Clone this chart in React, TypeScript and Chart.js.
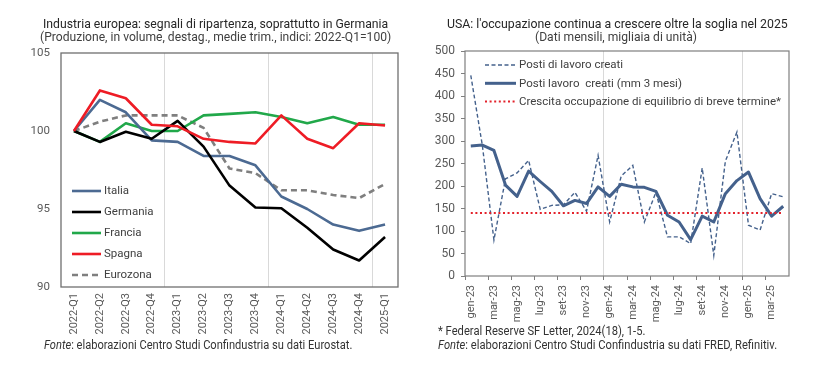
import React, { useEffect, useLayoutEffect, useRef, useState } from 'react';
import { Chart, registerables } from 'chart.js';

Chart.register(...registerables);
Chart.defaults.font.family = 'Roboto';

// ---------- Left chart data ----------
const quarters = ['2022-Q1', '2022-Q2', '2022-Q3', '2022-Q4', '2023-Q1', '2023-Q2', '2023-Q3', '2023-Q4', '2024-Q1', '2024-Q2', '2024-Q3', '2024-Q4', '2025-Q1'];
const italia = [100, 102.0, 101.2, 99.4, 99.3, 98.4, 98.4, 97.8, 95.8, 95.0, 94.0, 93.6, 94.0];
const germania = [100, 99.3, 99.95, 99.5, 100.65, 99.0, 96.5, 95.1, 95.05, 93.8, 92.4, 91.7, 93.2];
const francia = [100, 99.3, 100.5, 100.0, 100.0, 101.0, 101.1, 101.2, 100.9, 100.5, 100.9, 100.4, 100.4];
const spagna = [100, 102.6, 102.1, 100.4, 100.3, 99.5, 99.3, 99.2, 101.0, 99.5, 98.9, 100.5, 100.35];
const eurozona = [100, 100.6, 101.0, 101.0, 101.0, 100.2, 97.6, 97.3, 96.2, 96.2, 95.9, 95.7, 96.6];
const leftTicks = [90, 95, 100, 105];

// ---------- Right chart data ----------
const months = [
  'gen-23', 'feb-23', 'mar-23', 'apr-23', 'mag-23', 'giu-23', 'lug-23', 'ago-23', 'set-23', 'ott-23', 'nov-23', 'dic-23',
  'gen-24', 'feb-24', 'mar-24', 'apr-24', 'mag-24', 'giu-24', 'lug-24', 'ago-24', 'set-24', 'ott-24', 'nov-24', 'dic-24',
  'gen-25', 'feb-25', 'mar-25', 'apr-25',
];
const postiCreati = [446, 290, 80, 216, 229, 257, 148, 157, 158, 186, 144, 268, 120, 222, 246, 120, 186, 87, 87, 72, 240, 46, 255, 320, 113, 102, 183, 176];
const postiMM3 = [289, 291, 279, 202, 177, 233, 210, 188, 156, 168, 161, 198, 177, 204, 198, 197, 188, 135, 120, 81, 133, 120, 183, 212, 231, 172, 133, 155];
const sogliaEquilibrio = months.map(() => 140);

const lineLegend = {
  id: 'lineLegend',
  afterDraw(chart: any, _args: any, opts: any) {
    const { ctx, chartArea } = chart;
    ctx.save();
    ctx.font = opts.font;
    ctx.textBaseline = 'middle';
    ctx.textAlign = 'left';
    (opts.items as number[]).forEach((di, k) => {
      const ds: any = chart.data.datasets[di];
      const y = chartArea.top + opts.y + k * opts.spacing;
      const x0 = chartArea.left + opts.x;
      ctx.beginPath();
      ctx.setLineDash(ds.borderDash || []);
      ctx.strokeStyle = ds.borderColor;
      ctx.lineWidth = ds.borderWidth;
      ctx.moveTo(x0, y);
      ctx.lineTo(x0 + opts.len, y);
      ctx.stroke();
      ctx.setLineDash([]);
      ctx.fillStyle = opts.color;
      ctx.fillText(ds.label, x0 + opts.len + opts.gap, y + 0.5);
    });
    ctx.restore();
  },
};

const boxBorder = {
  id: 'boxBorder',
  beforeDatasetsDraw(chart: any, _args: any, opts: any) {
    const { ctx, chartArea } = chart;
    ctx.save();
    ctx.strokeStyle = opts.color;
    ctx.lineWidth = opts.width;
    ctx.strokeRect(chartArea.left, chartArea.top, chartArea.right - chartArea.left, chartArea.bottom - chartArea.top);
    ctx.restore();
  },
};

function Txt({ x, y, w, size, color, children }: any) {
  const ref = useRef<HTMLSpanElement>(null);
  const [sx, setSx] = useState(1);
  useLayoutEffect(() => {
    if (ref.current) {
      const nat = ref.current.offsetWidth;
      if (nat > 0) setSx(w / nat);
    }
  }, [w]);
  return (
    <span
      ref={ref}
      style={{
        position: 'absolute',
        left: x,
        top: y - size * 0.6,
        fontFamily: 'Roboto',
        fontSize: size,
        lineHeight: `${size * 1.2}px`,
        whiteSpace: 'nowrap',
        transform: `scaleX(${sx})`,
        transformOrigin: '0 0',
        color,
      }}
    >
      {children}
    </span>
  );
}

function LeftChart() {
  const ref = useRef<HTMLCanvasElement>(null);
  useEffect(() => {
    const W = 412, H = 340;
    const common = { pointRadius: 0, tension: 0, fill: false, borderJoinStyle: 'round' as const };
    const chart = new Chart(ref.current!, {
      type: 'line',
      data: {
        labels: quarters,
        datasets: [
          { label: 'Italia', data: italia, borderColor: '#4c6a92', borderWidth: 2.6, order: 2, ...common },
          { label: 'Germania', data: germania, borderColor: '#000000', borderWidth: 2.6, order: 1, ...common },
          { label: 'Francia', data: francia, borderColor: '#21a84a', borderWidth: 2.6, order: 3, ...common },
          { label: 'Spagna', data: spagna, borderColor: '#ee1c25', borderWidth: 2.6, order: 0, ...common },
          { label: 'Eurozona', data: eurozona, borderColor: '#7f7f7f', borderWidth: 2.6, borderDash: [6, 4], order: 4, ...common },
        ],
      },
      options: {
        animation: false,
        responsive: false,
        layout: { padding: { top: 53, left: 0, right: 14, bottom: 0 } },
        plugins: {
          legend: { display: false },
          tooltip: { enabled: false },
          lineLegend: { items: [0, 1, 2, 3, 4], x: 11, y: 138, spacing: 21, len: 29, gap: 3, font: '11.5px Roboto', color: '#404040' },
          boxBorder: { color: '#6f6f6f', width: 1.3 },
        } as any,
        scales: {
          x: {
            offset: true,
            grid: {
              offset: true,
              drawTicks: false,
              color: (c: any) => (c.index === 4 || c.index === 8 || c.index === 12 ? '#d9d9d9' : 'rgba(0,0,0,0)'),
            },
            border: { display: false },
            ticks: { autoSkip: false, maxRotation: 90, minRotation: 90, padding: 6, color: '#595959', font: { size: 11 } },
            afterFit: (s: any) => { s.height = H - 287; },
          },
          y: {
            min: 90,
            max: 105,
            grid: { display: false, drawTicks: false },
            border: { display: false },
            afterBuildTicks: (s: any) => { s.ticks = leftTicks.map((v) => ({ value: v })); },
            ticks: { padding: 11, color: '#595959', font: { size: 11.5 } },
            afterFit: (s: any) => { s.width = 61; },
          },
        },
      },
      plugins: [lineLegend, boxBorder],
    });
    return () => chart.destroy();
  }, []);
  return <canvas ref={ref} width={412} height={340} style={{ position: 'absolute', left: 0, top: 0 }} />;
}

function RightChart() {
  const ref = useRef<HTMLCanvasElement>(null);
  useEffect(() => {
    const H = 330;
    const chart = new Chart(ref.current!, {
      type: 'line',
      data: {
        labels: months,
        datasets: [
          { label: 'Posti di lavoro creati', data: postiCreati, borderColor: '#44618c', borderWidth: 1.4, borderDash: [4, 2.5], pointRadius: 0, tension: 0, order: 2 },
          { label: 'Posti lavoro  creati (mm 3 mesi)', data: postiMM3, borderColor: '#44618c', borderWidth: 3, pointRadius: 0, tension: 0, order: 1, borderJoinStyle: 'round' },
          { label: 'Crescita occupazione di equilibrio di breve termine*', data: sogliaEquilibrio, borderColor: '#e3222b', borderWidth: 2, borderDash: [2, 2.6], pointRadius: 0, tension: 0, order: 0 },
        ],
      },
      options: {
        animation: false,
        responsive: false,
        layout: { padding: { top: 51, left: 0, right: 36, bottom: 0 } },
        plugins: {
          legend: { display: false },
          tooltip: { enabled: false },
          lineLegend: { items: [0, 1, 2], x: 20, y: 14, spacing: 18.3, len: 31, gap: 3, font: '11.5px Roboto', color: '#404040' },
          boxBorder: { color: '#7f7f7f', width: 1.2 },
        } as any,
        scales: {
          x: {
            offset: true,
            grid: {
              offset: true,
              drawTicks: true,
              tickLength: 4,
              color: (c: any) => (c.index === 12 || c.index === 24 ? '#d9d9d9' : 'rgba(0,0,0,0)'),
              tickColor: (c: any) => (c.index % 2 === 0 ? '#7f7f7f' : 'rgba(0,0,0,0)'),
            },
            border: { display: false },
            ticks: {
              autoSkip: false,
              maxRotation: 90,
              minRotation: 90,
              padding: 5,
              color: '#595959',
              font: { size: 11 },
              callback: (_v: any, i: number) => (i % 2 === 0 ? months[i] : ''),
            },
            afterFit: (s: any) => { s.height = H - 276; },
          },
          y: {
            min: 0,
            max: 500,
            grid: { drawOnChartArea: false, drawTicks: true, tickLength: 4, color: '#7f7f7f' },
            border: { display: false },
            ticks: { stepSize: 50, padding: 6, color: '#595959', font: { size: 12 } },
            afterFit: (s: any) => { s.width = 53; },
          },
        },
      },
      plugins: [lineLegend, boxBorder],
    });
    return () => chart.destroy();
  }, []);
  return <canvas ref={ref} width={413} height={330} style={{ position: 'absolute', left: 412, top: 0 }} />;
}

export default function App() {
  return (
    <div style={{ position: 'absolute', left: 0, top: 0, width: 825, height: 369, background: '#fff', overflow: 'hidden' }}>
      <LeftChart />
      <RightChart />
      <Txt x={43} y={23} w={345} size={13.5} color="#262626">Industria europea: segnali di ripartenza, soprattutto in Germania</Txt>
      <Txt x={40} y={36.5} w={351} size={13} color="#404040">(Produzione, in volume, destag., medie trim., indici: 2022-Q1=100)</Txt>
      <Txt x={447} y={23} w={341} size={13.5} color="#262626">USA: l'occupazione continua a crescere oltre la soglia nel 2025</Txt>
      <Txt x={535} y={36.5} w={162} size={13} color="#404040">(Dati mensili, migliaia di unità)</Txt>
      <Txt x={44} y={345} w={308} size={12} color="#333"><i>Fonte</i>: elaborazioni Centro Studi Confindustria su dati Eurostat.</Txt>
      <Txt x={438} y={331.5} w={207} size={12} color="#333">* Federal Reserve SF Letter, 2024(18), 1-5.</Txt>
      <Txt x={438} y={345.5} w={339} size={12} color="#333"><i>Fonte</i>: elaborazioni Centro Studi Confindustria su dati FRED, Refinitiv.</Txt>
    </div>
  );
}
